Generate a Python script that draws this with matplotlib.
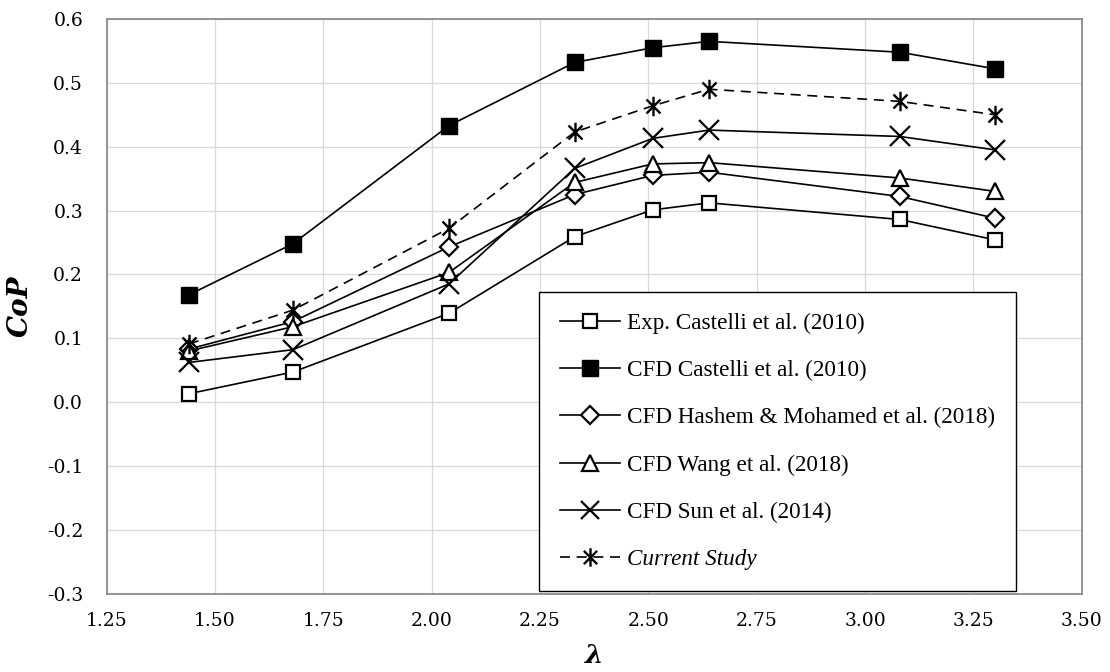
import matplotlib
matplotlib.use("Agg")
import matplotlib.pyplot as plt
from matplotlib.path import Path

# Tip speed ratio values
tsr = [1.44, 1.68, 2.04, 2.33, 2.51, 2.64, 3.08, 3.30]

# Power coefficient per data source
exp_castelli = [0.013, 0.047, 0.139, 0.259, 0.301, 0.312, 0.286, 0.254]
cfd_castelli = [0.168, 0.248, 0.433, 0.532, 0.555, 0.565, 0.548, 0.522]
cfd_hashem = [0.083, 0.126, 0.243, 0.325, 0.355, 0.360, 0.322, 0.288]
cfd_wang = [0.080, 0.118, 0.203, 0.344, 0.373, 0.375, 0.351, 0.330]
cfd_sun = [0.062, 0.082, 0.185, 0.366, 0.413, 0.426, 0.416, 0.395]
current_study = [0.091, 0.144, 0.272, 0.423, 0.464, 0.490, 0.471, 0.450]

labels = [
    "Exp. Castelli et al. (2010)",
    "CFD Castelli et al. (2010)",
    "CFD Hashem & Mohamed et al. (2018)",
    "CFD Wang et al. (2018)",
    "CFD Sun et al. (2014)",
    "Current Study",
]

x_ticks = [1.25, 1.50, 1.75, 2.00, 2.25, 2.50, 2.75, 3.00, 3.25, 3.50]
y_ticks = [-0.3, -0.2, -0.1, 0.0, 0.1, 0.2, 0.3, 0.4, 0.5, 0.6]

# six-armed star: vertical bar plus a cross
star = Path(
    [(0, -1), (0, 1), (-0.72, -0.72), (0.72, 0.72), (-0.72, 0.72), (0.72, -0.72)],
    [Path.MOVETO, Path.LINETO, Path.MOVETO, Path.LINETO, Path.MOVETO, Path.LINETO],
)

fig = plt.figure(figsize=(11.10, 6.72), dpi=100)
ax = fig.add_axes([0.0961, 0.1168, 0.8784, 0.8549])

lw = 1.2
mew = 1.6
ax.plot(tsr, exp_castelli, color="black", lw=lw, marker="s", ms=10,
        mfc="white", mec="black", mew=mew, label=labels[0])
ax.plot(tsr, cfd_castelli, color="black", lw=lw, marker="s", ms=11.5,
        mfc="black", mec="black", mew=1, label=labels[1])
ax.plot(tsr, cfd_hashem, color="black", lw=lw, marker="D", ms=9.5,
        mfc="white", mec="black", mew=mew, label=labels[2])
ax.plot(tsr, cfd_wang, color="black", lw=lw, marker="^", ms=12,
        mfc="white", mec="black", mew=mew, label=labels[3])
ax.plot(tsr, cfd_sun, color="black", lw=lw, marker="x", ms=14,
        mec="black", mew=1.6, label=labels[4])
ax.plot(tsr, current_study, color="black", lw=lw, ls=(0, (6, 4)), marker=star,
        ms=14, mec="black", mew=1.7, label=labels[5])

ax.set_xlim(1.25, 3.50)
ax.set_ylim(-0.3, 0.6)
ax.set_xticks(x_ticks)
ax.set_yticks(y_ticks)
ax.set_xticklabels([f"{v:.2f}" for v in x_ticks])
ax.set_yticklabels([f"{v:.1f}" for v in y_ticks])
ax.tick_params(axis="both", length=0, labelsize=13.5)
ax.tick_params(axis="x", pad=13)
ax.tick_params(axis="y", pad=17)
for t in ax.get_xticklabels() + ax.get_yticklabels():
    t.set_fontfamily("DejaVu Serif")

ax.grid(True, color="#d9d9d9", lw=0.9)
ax.set_axisbelow(True)
for s in ax.spines.values():
    s.set_color("#8c8c8c")
    s.set_linewidth(1.3)

ax.set_xlabel("λ", fontsize=19, fontweight="bold", fontstyle="italic",
              family="DejaVu Serif", labelpad=10)
ax.set_ylabel("CoP", fontsize=20, fontweight="bold", fontstyle="italic",
              family="DejaVu Serif", labelpad=9)

leg = ax.legend(
    loc="lower left", bbox_to_anchor=(0.4434, 0.0044), borderaxespad=0,
    prop={"family": "Liberation Serif", "size": 16.7},
    frameon=True, fancybox=False, edgecolor="black", framealpha=1,
    handlelength=2.6, handletextpad=0.3, labelspacing=1.12,
    borderpad=0.9, markerscale=0.95,
)
leg.get_frame().set_linewidth(1.0)
leg.get_texts()[-1].set_fontstyle("italic")

fig.savefig("out.png", dpi=100)
